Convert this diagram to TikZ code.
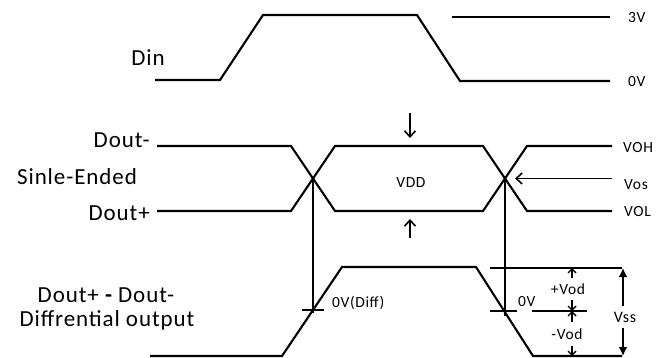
\documentclass[tikz,border=0pt]{standalone}
\usepackage{fontspec}
\setmainfont{Carlito}[LetterSpace=4]
\usetikzlibrary{arrows.meta}
\tikzset{
  big/.style={font=\fontsize{23}{25}\selectfont, inner sep=0pt},
  small/.style={font=\fontsize{15.5}{17}\selectfont, inner sep=0pt},
  wave/.style={line width=2.1pt, line join=miter},
  vod/.style={line width=1.4pt, {Straight Barb[length=4pt,width=8pt]}-{Straight Barb[length=4pt,width=8pt]}},
}
\begin{document}
\begin{tikzpicture}[x=1pt,y=-1pt]
  \useasboundingbox (0,0) rectangle (656,358);
  \draw
    (148,58) node[big] (din){Din}
    (150,140) node[big,anchor=east] (doutm){Dout-}
    (77,177) node[big] (single){Sinle-Ended}
    (150,213) node[big,anchor=east] (doutp){Dout+}
    (106,295) node[big] (diffname){Dout+ {\bfseries -} Dout-}
    (107,320) node[big] (diffout){Diffrential output}
    (628,18) node[small,anchor=west] (v3){3V}
    (628,82) node[small,anchor=west] (v0){0V}
    (623,148) node[small,anchor=west] (voh){VOH}
    (624,185) node[small,anchor=west] (vos){Vos}
    (624,212) node[small,anchor=west] (vol){VOL}
    (411,183) node[small] (vdd){VDD}
    (332,303) node[small,anchor=west] (zerodiff){0V(Diff)}
    (518,302) node[small,anchor=west] (zero){0V};
  \coordinate (xa) at (313,178.5);
  \coordinate (xb) at (505,178.5);
  \coordinate (pa) at (313,313);
  \coordinate (pb) at (505,316);
  \coordinate (top) at (572,268);
  \coordinate (mid) at (572,311);
  \coordinate (bot) at (572,356);
  \coordinate (sstop) at (623,268);
  \coordinate (ssbot) at (623,356);
  \coordinate (vostail) at (612,178.5);
  \coordinate (vostip) at (515,178.5);
  \coordinate (dntail) at (410,113);
  \coordinate (dntip) at (410,138);
  \coordinate (uptail) at (410,238);
  \coordinate (uptip) at (410,219);
  \begin{scope}[wave]
    \draw (155,80) -- (220,80) -- (263,15) -- (417,15) -- (460,81) -- (610,81);
    \draw (452,17) -- (610,17);
    \draw (157,146) -- (291,146) -- (335,211) -- (483,211) -- (527,146) -- (612,146);
    \draw (157,211) -- (291,211) -- (335,146) -- (483,146) -- (527,211) -- (612,211);
    \draw (150,356) -- (282,356) -- (342,267) -- (476,267) -- (533,356) -- (622,356);
    \draw (490,268) -- (622,268);
    \draw (532,311) -- (587,311);
    \draw (302,310) -- (324,310);
    \draw (490,311) -- (517,311);
    \draw (xa) -- (pa);
    \draw (xb) -- (pb);
  \end{scope}
  \begin{scope}[line width=1.6pt]
    \draw[-{Straight Barb[length=6pt,width=11pt]}] (vostail) -- (vostip);
    \draw[-{Straight Barb[length=6pt,width=11pt]}] (dntail) -- (dntip);
    \draw[-{Straight Barb[length=6pt,width=11pt]}] (uptail) -- (uptip);
  \end{scope}
  \draw[vod] (top) -- (mid);
  \draw[vod] (mid) -- (bot);
  \draw[line width=2.1pt, {Latex[length=9pt,width=9pt]}-{Latex[length=9pt,width=9pt]}] (sstop) -- (ssbot);
  \draw
    (568,289) node[small,fill=white,inner ysep=6pt,inner xsep=1pt] (pvod){+Vod}
    (567,334) node[small,fill=white,inner ysep=7pt,inner xsep=1pt] (mvod){-Vod}
    (625,317) node[small,fill=white,font=\fontsize{16}{18}\selectfont,inner ysep=6pt,inner xsep=1pt] (vss){Vss};
\end{tikzpicture}
\end{document}
